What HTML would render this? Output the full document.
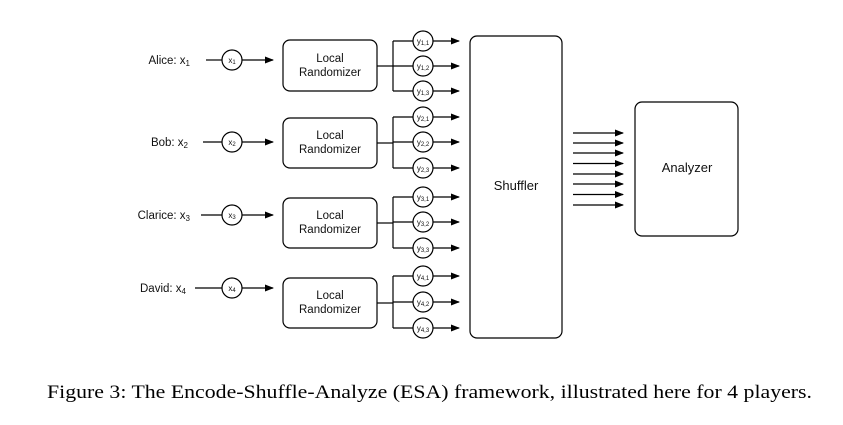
<!DOCTYPE html>
<html><head><meta charset="utf-8"><style>
html,body{margin:0;padding:0;background:#fff;}
svg{display:block;}
text{font-family:"Liberation Sans",Arial,sans-serif;fill:#111;}
.cap{font-family:"Liberation Serif","Times New Roman",serif;font-size:19px;fill:#000;}
</style></head><body>
<svg width="843" height="425" viewBox="0 0 843 425" xmlns="http://www.w3.org/2000/svg">
<defs>
<marker id="ah" markerWidth="9" markerHeight="8" refX="8" refY="4" orient="auto" markerUnits="userSpaceOnUse">
<polygon points="0,0.5 9,4 0,7.5" fill="#000"/>
</marker>
</defs>
<g stroke="#000" stroke-width="1.2" fill="none">
<!-- Row 1 -->
<line x1="206" y1="60" x2="222" y2="60"/><circle cx="232" cy="60" r="10"/><line x1="242" y1="60" x2="273" y2="60" marker-end="url(#ah)"/>
<rect x="283" y="40" width="94" height="51" rx="7"/>
<line x1="377" y1="66" x2="393" y2="66"/><line x1="393" y1="41" x2="393" y2="91"/>
<line x1="393" y1="41" x2="413" y2="41"/><line x1="393" y1="66" x2="413" y2="66"/><line x1="393" y1="91" x2="413" y2="91"/>
<circle cx="423" cy="41" r="10"/><circle cx="423" cy="66" r="10"/><circle cx="423" cy="91" r="10"/>
<line x1="433" y1="41" x2="459" y2="41" marker-end="url(#ah)"/><line x1="433" y1="66" x2="459" y2="66" marker-end="url(#ah)"/><line x1="433" y1="91" x2="459" y2="91" marker-end="url(#ah)"/>
<!-- Row 2 -->
<line x1="203" y1="142" x2="222" y2="142"/><circle cx="232" cy="142" r="10"/><line x1="242" y1="142" x2="273" y2="142" marker-end="url(#ah)"/>
<rect x="283" y="118" width="94" height="50" rx="7"/>
<line x1="377" y1="143" x2="393" y2="143"/><line x1="393" y1="117" x2="393" y2="168"/>
<line x1="393" y1="117" x2="413" y2="117"/><line x1="393" y1="142" x2="413" y2="142"/><line x1="393" y1="168" x2="413" y2="168"/>
<circle cx="423" cy="117" r="10"/><circle cx="423" cy="142" r="10"/><circle cx="423" cy="168" r="10"/>
<line x1="433" y1="117" x2="459" y2="117" marker-end="url(#ah)"/><line x1="433" y1="142" x2="459" y2="142" marker-end="url(#ah)"/><line x1="433" y1="168" x2="459" y2="168" marker-end="url(#ah)"/>
<!-- Row 3 -->
<line x1="201" y1="215" x2="222" y2="215"/><circle cx="232" cy="215" r="10"/><line x1="242" y1="215" x2="273" y2="215" marker-end="url(#ah)"/>
<rect x="283" y="198" width="94" height="50" rx="7"/>
<line x1="377" y1="223" x2="393" y2="223"/><line x1="393" y1="197" x2="393" y2="248"/>
<line x1="393" y1="197" x2="413" y2="197"/><line x1="393" y1="222" x2="413" y2="222"/><line x1="393" y1="248" x2="413" y2="248"/>
<circle cx="423" cy="197" r="10"/><circle cx="423" cy="222" r="10"/><circle cx="423" cy="248" r="10"/>
<line x1="433" y1="197" x2="459" y2="197" marker-end="url(#ah)"/><line x1="433" y1="222" x2="459" y2="222" marker-end="url(#ah)"/><line x1="433" y1="248" x2="459" y2="248" marker-end="url(#ah)"/>
<!-- Row 4 -->
<line x1="195" y1="288" x2="222" y2="288"/><circle cx="232" cy="288" r="10"/><line x1="242" y1="288" x2="273" y2="288" marker-end="url(#ah)"/>
<rect x="283" y="278" width="94" height="50" rx="7"/>
<line x1="377" y1="303" x2="393" y2="303"/><line x1="393" y1="276" x2="393" y2="328"/>
<line x1="393" y1="276" x2="413" y2="276"/><line x1="393" y1="302" x2="413" y2="302"/><line x1="393" y1="328" x2="413" y2="328"/>
<circle cx="423" cy="276" r="10"/><circle cx="423" cy="302" r="10"/><circle cx="423" cy="328" r="10"/>
<line x1="433" y1="276" x2="459" y2="276" marker-end="url(#ah)"/><line x1="433" y1="302" x2="459" y2="302" marker-end="url(#ah)"/><line x1="433" y1="328" x2="459" y2="328" marker-end="url(#ah)"/>
<!-- Shuffler & Analyzer -->
<rect x="470" y="36" width="92" height="302" rx="7"/>
<rect x="635" y="102" width="103" height="134" rx="7"/>
<line x1="573" y1="133" x2="623" y2="133" marker-end="url(#ah)"/>
<line x1="573" y1="143" x2="623" y2="143" marker-end="url(#ah)"/>
<line x1="573" y1="153" x2="623" y2="153" marker-end="url(#ah)"/>
<line x1="573" y1="163.5" x2="623" y2="163.5" marker-end="url(#ah)"/>
<line x1="573" y1="174" x2="623" y2="174" marker-end="url(#ah)"/>
<line x1="573" y1="184" x2="623" y2="184" marker-end="url(#ah)"/>
<line x1="573" y1="194.5" x2="623" y2="194.5" marker-end="url(#ah)"/>
<line x1="573" y1="205" x2="623" y2="205" marker-end="url(#ah)"/>
</g>
<g font-size="11.5" text-anchor="end">
<text x="190" y="64">Alice: x<tspan font-size="8" dy="2">1</tspan></text>
<text x="188" y="146">Bob: x<tspan font-size="8" dy="2">2</tspan></text>
<text x="190" y="219">Clarice: x<tspan font-size="8" dy="2">3</tspan></text>
<text x="186" y="292">David: x<tspan font-size="8" dy="2">4</tspan></text>
</g>
<g font-size="8" text-anchor="middle" fill="#333">
<text x="232" y="63">x<tspan font-size="6" dy="1">1</tspan></text>
<text x="232" y="145">x<tspan font-size="6" dy="1">2</tspan></text>
<text x="232" y="218">x<tspan font-size="6" dy="1">3</tspan></text>
<text x="232" y="291">x<tspan font-size="6" dy="1">4</tspan></text>
</g>
<g font-size="8" text-anchor="middle">
<text x="423" y="44">y<tspan font-size="6" dy="1">1,1</tspan></text>
<text x="423" y="69">y<tspan font-size="6" dy="1">1,2</tspan></text>
<text x="423" y="94">y<tspan font-size="6" dy="1">1,3</tspan></text>
<text x="423" y="120">y<tspan font-size="6" dy="1">2,1</tspan></text>
<text x="423" y="145">y<tspan font-size="6" dy="1">2,2</tspan></text>
<text x="423" y="171">y<tspan font-size="6" dy="1">2,3</tspan></text>
<text x="423" y="200">y<tspan font-size="6" dy="1">3,1</tspan></text>
<text x="423" y="225">y<tspan font-size="6" dy="1">3,2</tspan></text>
<text x="423" y="251">y<tspan font-size="6" dy="1">3,3</tspan></text>
<text x="423" y="279">y<tspan font-size="6" dy="1">4,1</tspan></text>
<text x="423" y="305">y<tspan font-size="6" dy="1">4,2</tspan></text>
<text x="423" y="331">y<tspan font-size="6" dy="1">4,3</tspan></text>
</g>
<g font-size="11.5" text-anchor="middle">
<text x="330" y="62">Local</text><text x="330" y="76">Randomizer</text>
<text x="330" y="139">Local</text><text x="330" y="153">Randomizer</text>
<text x="330" y="219">Local</text><text x="330" y="233">Randomizer</text>
<text x="330" y="299">Local</text><text x="330" y="313">Randomizer</text>
<text x="516" y="190" font-size="13">Shuffler</text>
<text x="687" y="172" font-size="13">Analyzer</text>
</g>
<text class="cap" x="47" y="398" textLength="765" lengthAdjust="spacingAndGlyphs">Figure 3: The Encode-Shuffle-Analyze (ESA) framework, illustrated here for 4 players.</text>
</svg>
</body></html>
